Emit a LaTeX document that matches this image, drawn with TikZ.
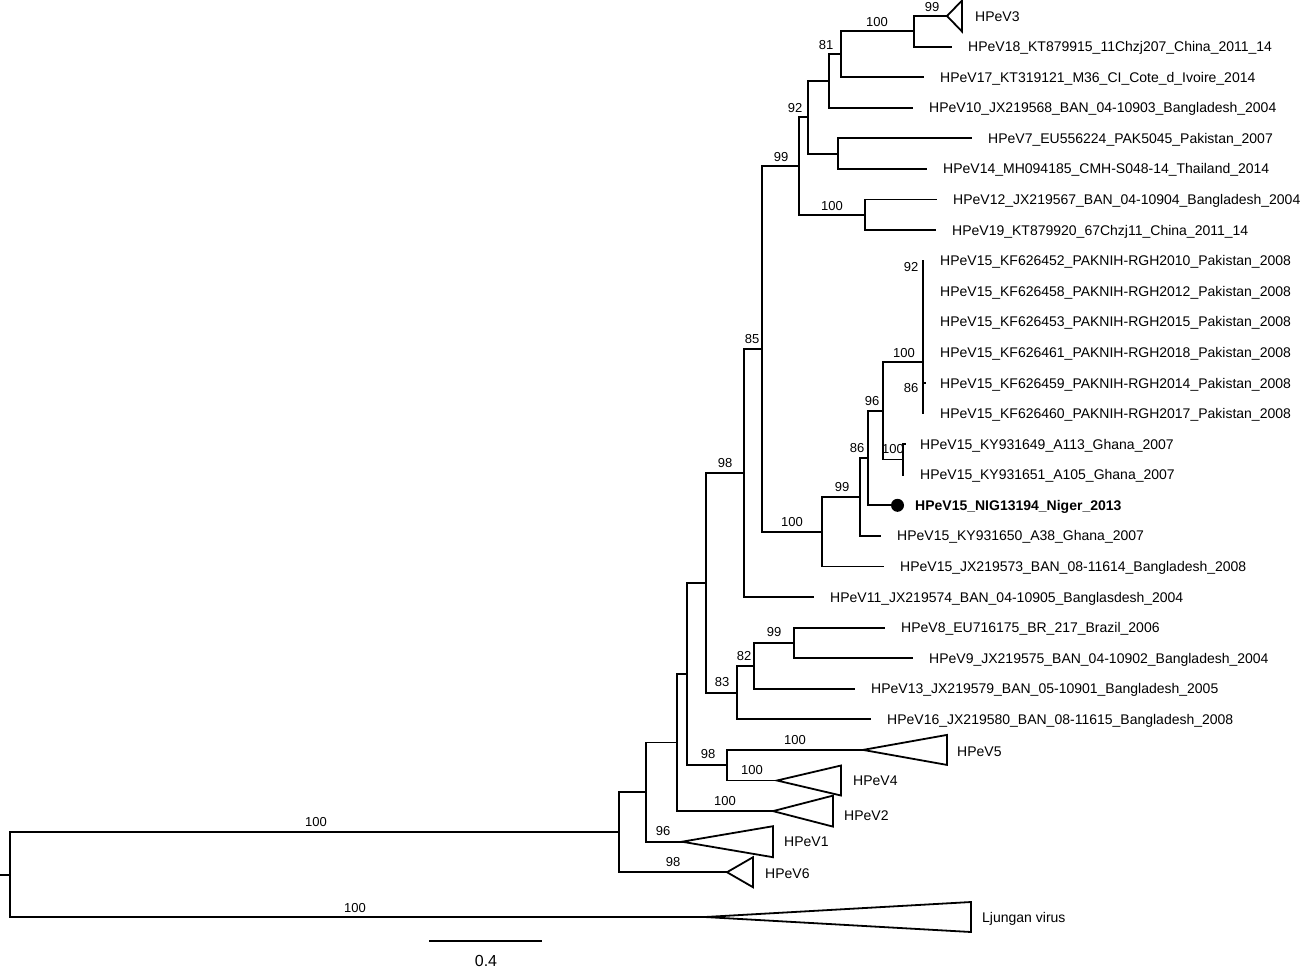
\documentclass[tikz,border=0pt]{standalone}
\usepackage{fontspec}
\setmainfont{Liberation Sans}
\begin{document}
\begin{tikzpicture}[x=1pt,y=-1pt,
  branch/.style={line width=1.8pt, line cap=rect, line join=miter},
  clade/.style={draw, line width=1.8pt, line join=miter, fill=white},
  tiplab/.style={anchor=base west, inner sep=0pt, xshift=17pt, yshift=-5pt, font=\fontsize{14}{16}\selectfont},
  trilab/.style={anchor=base west, inner sep=0pt, font=\fontsize{14}{16}\selectfont},
  boot/.style={anchor=base, inner sep=0pt, yshift=-4.6pt, font=\fontsize{13}{15}\selectfont},
  dotstyle/.style={circle, fill=black, inner sep=0pt, minimum size=13pt}]
\useasboundingbox (0,0) rectangle (1300,970);

% ---------- tree coordinates ----------
\coordinate (rs) at (0,874.6);
\coordinate (r) at (10,874.6);
\coordinate (n619) at (619,832.2);
\coordinate (lj) at (705,917);
\coordinate (n646) at (646,792.1);
\coordinate (h6) at (727,872.2);
\coordinate (n677) at (677,742.5);
\coordinate (h1) at (682,841.7);
\coordinate (n687) at (687,674);
\coordinate (h2) at (773,811.1);
\coordinate (n706) at (706,582.7);
\coordinate (n727) at (727,765.2);
\coordinate (h5) at (863,749.9);
\coordinate (h4) at (777,780.5);
\coordinate (n744) at (744,472.9);
\coordinate (n737) at (737,692.6);
\coordinate (n754) at (754,665.85);
\coordinate (n794) at (794,642.9);
\coordinate (t8) at (884,627.6);
\coordinate (t9) at (912,658.2);
\coordinate (t13) at (854,688.8);
\coordinate (t16) at (870,719.3);
\coordinate (n762) at (762,348.9);
\coordinate (t11) at (813,597);
\coordinate (n799) at (799,166.05);
\coordinate (n822) at (822,531.7);
\coordinate (n808) at (808,117.3);
\coordinate (n865) at (865,214.8);
\coordinate (n829) at (829,81);
\coordinate (n838) at (838,153.6);
\coordinate (n841) at (841,54.25);
\coordinate (t10) at (912,107.7);
\coordinate (n914) at (914,31.3);
\coordinate (t17) at (923,77.2);
\coordinate (h3) at (947,16);
\coordinate (t18) at (951,46.6);
\coordinate (t7) at (971,138.3);
\coordinate (t14) at (926,168.9);
\coordinate (t12) at (936,199.5);
\coordinate (t19) at (935,230.1);
\coordinate (n860) at (860,497);
\coordinate (tbd) at (883,566.4);
\coordinate (n868) at (868,458);
\coordinate (ta38) at (880,535.9);
\coordinate (n883) at (883,410.7);
\coordinate (tnig) at (891,505.3);
\coordinate (n923) at (923,362);
\coordinate (n903) at (903,459.4);
\coordinate (p1) at (923,260.6);
\coordinate (p2) at (923,291.2);
\coordinate (p3) at (923,321.8);
\coordinate (p4) at (923,352.4);
\coordinate (p5) at (923,383.0);
\coordinate (p6) at (923,413.5);
\coordinate (g1) at (903,444.1);
\coordinate (g2) at (903,474.7);
\coordinate (sb1) at (430,941);
\coordinate (sb2) at (541,941);

% ---------- branches ----------
\draw[branch] (rs) -- (r);
\draw[branch] (r) |- (n619);
\draw[branch] (r) |- (lj);
\draw[branch] (n619) |- (n646);
\draw[branch] (n619) |- (h6);
\draw[branch] (n646) |- (n677);
\draw[branch] (n646) |- (h1);
\draw[branch] (n677) |- (n687);
\draw[branch] (n677) |- (h2);
\draw[branch] (n687) |- (n706);
\draw[branch] (n687) |- (n727);
\draw[branch] (n727) |- (h5);
\draw[branch] (n727) |- (h4);
\draw[branch] (n706) |- (n744);
\draw[branch] (n706) |- (n737);
\draw[branch] (n737) |- (n754);
\draw[branch] (n737) |- (t16);
\draw[branch] (n754) |- (n794);
\draw[branch] (n754) |- (t13);
\draw[branch] (n794) |- (t8);
\draw[branch] (n794) |- (t9);
\draw[branch] (n744) |- (n762);
\draw[branch] (n744) |- (t11);
\draw[branch] (n762) |- (n799);
\draw[branch] (n762) |- (n822);
\draw[branch] (n799) |- (n808);
\draw[branch] (n799) |- (n865);
\draw[branch] (n808) |- (n829);
\draw[branch] (n808) |- (n838);
\draw[branch] (n829) |- (n841);
\draw[branch] (n829) |- (t10);
\draw[branch] (n841) |- (n914);
\draw[branch] (n841) |- (t17);
\draw[branch] (n914) |- (h3);
\draw[branch] (n914) |- (t18);
\draw[branch] (n838) |- (t7);
\draw[branch] (n838) |- (t14);
\draw[branch] (n865) |- (t12);
\draw[branch] (n865) |- (t19);
\draw[branch] (n822) |- (n860);
\draw[branch] (n822) |- (tbd);
\draw[branch] (n860) |- (n868);
\draw[branch] (n860) |- (ta38);
\draw[branch] (n868) |- (n883);
\draw[branch] (n868) |- (tnig);
\draw[branch] (n883) |- (n923);
\draw[branch] (n883) |- (n903);
\draw[branch] (n923) -- (p1);
\draw[branch] (n923) -- (p6);
\draw[branch] (p5) -- ++(2,0);
\draw[branch] (n903) -- (g1);
\draw[branch] (n903) -- (g2);
\draw[branch] (g1) -- ++(2,0);
\draw[branch] (sb1) -- (sb2);

% ---------- collapsed clades ----------
\draw[clade] (h3) -- ++(15,-15.5) -- ++(0,31) -- cycle;
\draw[clade] (h5) -- ++(84,-15) -- ++(0,30) -- cycle;
\draw[clade] (h4) -- ++(64,-15) -- ++(0,30) -- cycle;
\draw[clade] (h2) -- ++(60,-15.5) -- ++(0,31) -- cycle;
\draw[clade] (h1) -- ++(91,-15.5) -- ++(0,31) -- cycle;
\draw[clade] (h6) -- ++(26,-15) -- ++(0,30) -- cycle;
\draw[clade] (lj) -- ++(266,-15) -- ++(0,30) -- cycle;

\node[dotstyle, xshift=6.5pt] (dot) at (tnig) {};

% ---------- tip labels ----------
\node[tiplab] (l18) at (t18) {HPeV18\_KT879915\_11Chzj207\_China\_2011\_14};
\node[tiplab] (l17) at (t17) {HPeV17\_KT319121\_M36\_CI\_Cote\_d\_Ivoire\_2014};
\node[tiplab] (l10) at (t10) {HPeV10\_JX219568\_BAN\_04-10903\_Bangladesh\_2004};
\node[tiplab] (l7) at (t7) {HPeV7\_EU556224\_PAK5045\_Pakistan\_2007};
\node[tiplab] (l14) at (t14) {HPeV14\_MH094185\_CMH-S048-14\_Thailand\_2014};
\node[tiplab] (l12) at (t12) {HPeV12\_JX219567\_BAN\_04-10904\_Bangladesh\_2004};
\node[tiplab] (l19) at (t19) {HPeV19\_KT879920\_67Chzj11\_China\_2011\_14};
\node[tiplab] (lp1) at (p1) {HPeV15\_KF626452\_PAKNIH-RGH2010\_Pakistan\_2008};
\node[tiplab] (lp2) at (p2) {HPeV15\_KF626458\_PAKNIH-RGH2012\_Pakistan\_2008};
\node[tiplab] (lp3) at (p3) {HPeV15\_KF626453\_PAKNIH-RGH2015\_Pakistan\_2008};
\node[tiplab] (lp4) at (p4) {HPeV15\_KF626461\_PAKNIH-RGH2018\_Pakistan\_2008};
\node[tiplab] (lp5) at (p5) {HPeV15\_KF626459\_PAKNIH-RGH2014\_Pakistan\_2008};
\node[tiplab] (lp6) at (p6) {HPeV15\_KF626460\_PAKNIH-RGH2017\_Pakistan\_2008};
\node[tiplab] (lg1) at (g1) {HPeV15\_KY931649\_A113\_Ghana\_2007};
\node[tiplab] (lg2) at (g2) {HPeV15\_KY931651\_A105\_Ghana\_2007};
\node[tiplab, xshift=7pt] (lnig) at (tnig) {\bfseries HPeV15\_NIG13194\_Niger\_2013};
\node[tiplab] (la38) at (ta38) {HPeV15\_KY931650\_A38\_Ghana\_2007};
\node[tiplab] (lbd) at (tbd) {HPeV15\_JX219573\_BAN\_08-11614\_Bangladesh\_2008};
\node[tiplab] (l11) at (t11) {HPeV11\_JX219574\_BAN\_04-10905\_Banglasdesh\_2004};
\node[tiplab] (l8) at (t8) {HPeV8\_EU716175\_BR\_217\_Brazil\_2006};
\node[tiplab] (l9) at (t9) {HPeV9\_JX219575\_BAN\_04-10902\_Bangladesh\_2004};
\node[tiplab] (l13) at (t13) {HPeV13\_JX219579\_BAN\_05-10901\_Bangladesh\_2005};
\node[tiplab] (l16) at (t16) {HPeV16\_JX219580\_BAN\_08-11615\_Bangladesh\_2008};

\node[trilab] (lh3) at (975,21) {HPeV3};
\node[trilab] (lh5) at (957,756) {HPeV5};
\node[trilab] (lh4) at (853,785) {HPeV4};
\node[trilab] (lh2) at (844,820) {HPeV2};
\node[trilab] (lh1) at (784,846) {HPeV1};
\node[trilab] (lh6) at (765,878) {HPeV6};
\node[trilab] (llj) at (982,922) {Ljungan virus};

% ---------- bootstrap values ----------
\node[boot] (b1) at (932,7) {99};
\node[boot] (b2) at (877,22) {100};
\node[boot] (b3) at (826,45) {81};
\node[boot] (b4) at (795,108) {92};
\node[boot] (b5) at (781,157) {99};
\node[boot] (b6) at (832,206) {100};
\node[boot] (b7) at (752,339) {85};
\node[boot] (b8) at (911,267) {92};
\node[boot] (b9) at (904,353) {100};
\node[boot] (b10) at (911,388) {86};
\node[boot] (b11) at (872,401) {96};
\node[boot] (b12) at (893,449) {100};
\node[boot] (b13) at (857,448) {86};
\node[boot] (b14) at (842,487) {99};
\node[boot] (b15) at (792,522) {100};
\node[boot] (b16) at (725,463) {98};
\node[boot] (b17) at (774,632) {99};
\node[boot] (b18) at (744,656) {82};
\node[boot] (b19) at (722,682) {83};
\node[boot] (b20) at (795,740) {100};
\node[boot] (b21) at (708,754) {98};
\node[boot] (b22) at (752,770) {100};
\node[boot] (b23) at (725,801) {100};
\node[boot] (b24) at (663,831) {96};
\node[boot] (b25) at (673,862) {98};
\node[boot] (b26) at (316,822) {100};
\node[boot] (b27) at (355,908) {100};

\node[anchor=base, inner sep=0pt, font=\fontsize{16}{19}\selectfont] (sbl) at (486,966) {0.4};
\end{tikzpicture}
\end{document}
